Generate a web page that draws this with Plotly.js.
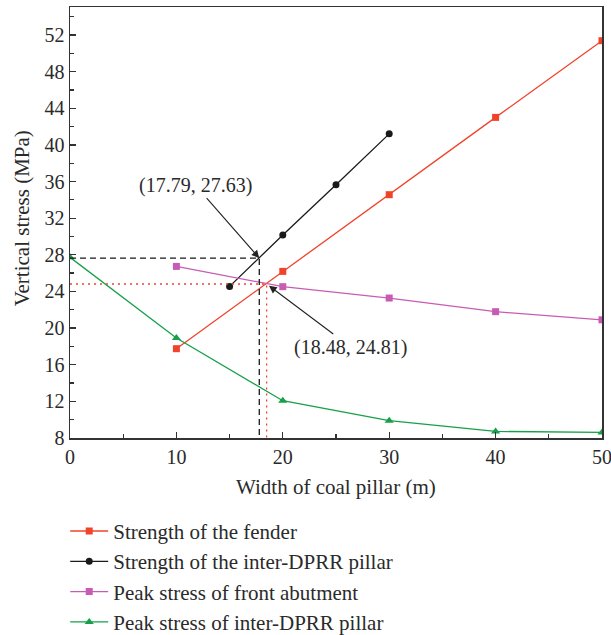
<!DOCTYPE html>
<html>
<head>
<meta charset="utf-8">
<script src="https://cdn.plot.ly/plotly-3.0.1.min.js"></script>
<style>html,body{margin:0;padding:0;background:#fff;}#chart{width:611px;height:635px;}</style>
</head>
<body>
<div id="chart"></div>
<script>
const fenderX = [10, 20, 30, 40, 50];
const fenderY = [17.75, 26.19, 34.56, 43.0, 51.37];
const interPillarX = [15, 20, 25, 30];
const interPillarY = [24.55, 30.16, 35.65, 41.2];
const frontAbutX = [10, 20, 30, 40, 50];
const frontAbutY = [26.73, 24.52, 23.28, 21.79, 20.9];
const peakInterX = [0, 10, 20, 30, 40, 50];
const peakInterY = [27.72, 18.92, 12.07, 9.89, 8.72, 8.61];
const point1 = [17.79, 27.63];
const point2 = [18.48, 24.81];
const seriesNames = [
  "Strength of the fender",
  "Strength of the inter-DPRR pillar",
  "Peak stress of front abutment",
  "Peak stress of inter-DPRR pillar"
];
const xTitle = "Width of coal pillar (m)";
const yTitle = "Vertical stress (MPa)";

const FONT = "Liberation Serif, Times New Roman, serif";
const TXT = "#2a2a2a";
const cRed = "#f0432a", cBlack = "#1a1a1a", cMag = "#c85cb4", cGreen = "#16a04a";

const traces = [
  {x: fenderX, y: fenderY, name: seriesNames[0], mode: "lines+markers",
   line: {color: cRed, width: 1.3}, marker: {symbol: "square", size: 7, color: cRed}},
  {x: interPillarX, y: interPillarY, name: seriesNames[1], mode: "lines+markers",
   line: {color: cBlack, width: 1.3}, marker: {symbol: "circle", size: 7, color: cBlack}},
  {x: frontAbutX, y: frontAbutY, name: seriesNames[2], mode: "lines+markers",
   line: {color: cMag, width: 1.3}, marker: {symbol: "square", size: 7, color: cMag}},
  {x: peakInterX, y: peakInterY, name: seriesNames[3], mode: "lines+markers",
   line: {color: cGreen, width: 1.3}, marker: {symbol: "triangle-up", size: 8, color: cGreen}},
  {x: [0, point1[0], point1[0]], y: [point1[1], point1[1], 8], mode: "lines", showlegend: false,
   hoverinfo: "skip", line: {color: cBlack, width: 1.3, dash: "6px,4px"}},
  {x: [0, point2[0], point2[0]], y: [point2[1], point2[1], 8], mode: "lines", showlegend: false,
   hoverinfo: "skip", line: {color: cRed, width: 1.3, dash: "2px,4px"}}
];

const layout = {
  width: 611, height: 635,
  margin: {l: 70, r: 9, t: 7, b: 197, autoexpand: false},
  paper_bgcolor: "#fff", plot_bgcolor: "#fff",
  font: {family: FONT, size: 20, color: TXT},
  showlegend: true,
  legend: {x: -0.009, xanchor: "left", y: -0.169, yanchor: "top",
    font: {family: FONT, size: 21, color: TXT}, itemwidth: 38, tracegroupgap: 0,
    bgcolor: "rgba(0,0,0,0)"},
  xaxis: {
    range: [0, 50], dtick: 10, tick0: 0, automargin: false,
    ticks: "inside", ticklen: 6, tickwidth: 1.3, tickcolor: "#333",
    minor: {ticks: "inside", dtick: 5, ticklen: 4, tickwidth: 1.3, tickcolor: "#333"},
    showline: true, linecolor: "#333", linewidth: 1.5, mirror: true,
    showgrid: false, zeroline: false, ticklabeloverflow: "allow",
    tickfont: {family: FONT, size: 20, color: TXT}
  },
  yaxis: {
    range: [8, 55.05], dtick: 4, tick0: 8, automargin: false,
    ticks: "inside", ticklen: 6, tickwidth: 1.3, tickcolor: "#333",
    minor: {ticks: "inside", dtick: 2, ticklen: 4, tickwidth: 1.3, tickcolor: "#333"},
    showline: true, linecolor: "#333", linewidth: 1.5, mirror: true,
    showgrid: false, zeroline: false,
    tickfont: {family: FONT, size: 20, color: TXT}
  },
  annotations: [
    {xref: "paper", yref: "paper", x: 0.5, y: -0.113, xanchor: "center", yanchor: "middle",
     text: xTitle, showarrow: false, font: {family: FONT, size: 21, color: TXT}},
    {xref: "paper", yref: "paper", x: -0.09, y: 0.51, xanchor: "center", yanchor: "middle",
     text: yTitle, textangle: -90, showarrow: false, font: {family: FONT, size: 21, color: TXT}},
    {x: point1[0], y: point1[1], xref: "x", yref: "y",
     text: "(" + point1[0] + ", " + point1[1] + ")", showarrow: true,
     ax: -64, ay: -73, arrowhead: 2, arrowsize: 1.4, arrowwidth: 1.1, arrowcolor: "#222",
     font: {family: FONT, size: 20, color: TXT}},
    {x: point2[0], y: point2[1], xref: "x", yref: "y",
     text: "(" + point2[0] + ", " + point2[1] + ")", showarrow: true,
     ax: 84, ay: 63, arrowhead: 2, arrowsize: 1.4, arrowwidth: 1.1, arrowcolor: "#222", standoff: 3,
     font: {family: FONT, size: 20, color: TXT}}
  ]
};

Plotly.newPlot("chart", traces, layout, {displayModeBar: false, staticPlot: true});
</script>
</body>
</html>
